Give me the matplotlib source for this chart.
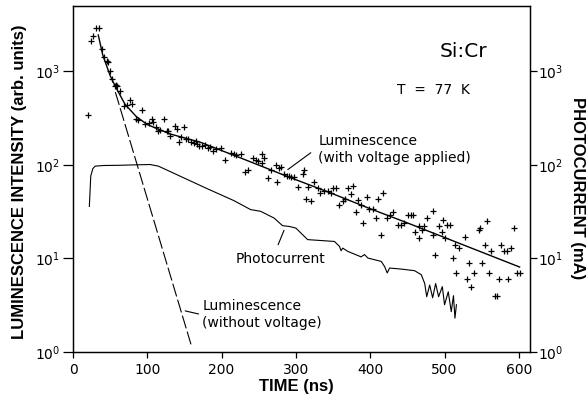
import matplotlib
matplotlib.use("Agg")
import matplotlib.pyplot as plt
from matplotlib.ticker import LogLocator, FixedLocator, NullLocator

# luminescence with voltage applied: measured points (time ns, intensity)
lum_t = [20.7, 24.3, 27.5, 31, 34.7, 38.7, 42.3, 45.5, 47, 50, 52.3, 55.9, 57.5, 59.5,
         63.5, 68, 72, 77, 80, 84.7, 87.6, 92.8, 97, 102, 106, 108, 112, 114, 117, 123,
         126, 128, 131, 137, 140, 143, 146, 150, 152, 155, 159, 163, 165, 167, 169,
         174, 178, 182, 185, 189, 192, 199, 205, 212, 216, 220, 226, 232, 235, 242,
         246, 249, 254, 255, 257, 262, 266, 273, 275, 277, 280, 284, 288, 291, 294,
         297, 303, 309, 311, 314, 316, 320, 324, 330, 333, 338, 343, 347,
         350, 354, 358, 363, 366, 370, 374, 377, 381, 383, 388, 390, 395, 399, 404,
         408, 411, 414, 417, 422, 426, 431, 438, 442, 446,
         451, 455, 458, 460, 465, 466, 469, 473, 477, 484, 485, 487, 492, 496, 498,
         500, 503, 507, 511, 514, 516, 520, 527, 530, 533, 536, 540, 546, 548, 550,
         554, 557, 560, 563, 568, 570, 573, 576, 580, 584, 586, 589, 593, 597, 601]
lum_v = [340, 2130, 2400, 2900, 2900, 1730, 1420, 1290, 1250, 1000, 830, 700, 720, 700,
         615, 425, 440, 490, 445, 310, 305, 385, 277, 280, 310, 290, 255, 230, 235, 310,
         228, 230, 204, 260, 245, 174, 198, 255, 190, 188, 176, 172, 178, 168, 158,
         159, 165, 150, 155, 141, 148, 153, 114, 135, 131, 128, 130, 83, 89, 120,
         114, 110, 130, 106, 118, 73, 89, 101, 65, 93, 94, 80, 77, 76, 75,
         75, 58, 79, 89, 43, 58, 41, 65, 57, 50, 52, 52, 50,
         57, 57, 37.6, 41, 43, 56, 49, 60, 31, 42, 37, 24, 45, 34, 34,
         27, 43, 18, 50, 27, 29, 31, 23, 23, 24,
         29, 29.5, 29, 19, 16.7, 22, 20, 22, 27, 18, 32, 11, 22, 19, 26,
         16.7, 23, 23, 10, 14, 7, 13, 17, 6, 9, 5, 7, 20, 21, 9,
         14, 25, 7, 12, 4, 4, 6, 14, 12, 12, 6, 13, 21, 7, 7]

# fitted curve (with voltage)
fit_t = [34, 40, 50, 57, 70, 85, 100, 130, 172, 230, 289, 350, 400, 450, 520, 601]
fit_v = [2450, 1500, 900, 690, 445, 330, 270, 215, 174, 115, 75, 49, 34, 24, 14.5, 8.1]

# luminescence without voltage (dashed)
nov_t = [57, 160]
nov_v = [600, 1.12]

# photocurrent (mA)
pc_t = [22, 23.9, 26.6, 29.7, 41, 60, 80, 103.6, 115, 153.6, 180, 216.6, 239, 252.6,
        270.7, 282, 291, 300, 306.7, 315.8, 351.8, 358.5, 360.8, 363, 369.8, 387.7,
        392.3, 396.8, 414.8, 419.3, 422.9, 426, 441.7, 459.7, 468.7, 473.3,
        476, 480, 484, 488, 492, 497, 500, 505, 509, 512, 514, 516]
pc_v = [36, 76, 91, 97, 98.6, 99, 100, 101, 97, 70, 56, 41.5, 33.3, 31.9,
        27, 22.4, 22, 21.1, 18.7, 15.9, 15.2, 13.5, 12.1, 12.9, 11.9, 10.4,
        11.0, 10.1, 9.3, 8.2, 7.0, 7.9, 7.7, 7.4, 6.7, 5.4,
        3.9, 5.2, 3.8, 5.4, 3.9, 5.0, 3.2, 4.4, 2.7, 4.0, 2.3, 3.2]

plt.rcParams['font.family'] = ['DejaVu Sans']
fig = plt.figure(figsize=(5.88, 4.0), dpi=100)
ax = fig.add_axes([73 / 588, 1 - 352 / 400, (530 - 73) / 588, (352 - 6) / 400])

ax.plot(lum_t, lum_v, '+', color='black', ms=4.5, mew=0.9)
ax.plot(fit_t, fit_v, '-', color='black', lw=1.0)
ax.plot(nov_t, nov_v, color='black', lw=0.8, linestyle=(0, (12, 3)))
ax.plot(pc_t, pc_v, '-', color='black', lw=0.8)

ax.set_yscale('log')
ax.set_xlim(0, 615)
ax.set_ylim(1, 5000)
ax.xaxis.set_major_locator(FixedLocator([0, 100, 200, 300, 400, 500, 600]))
ax.yaxis.set_major_locator(LogLocator(base=10, numticks=10))
ax.yaxis.set_minor_locator(NullLocator())

ax2 = ax.twinx()
ax2.set_yscale('log')
ax2.set_ylim(1, 5000)
ax2.yaxis.set_minor_locator(NullLocator())

for a in (ax, ax2):
    for s in a.spines.values():
        s.set_linewidth(0.9)
ax.tick_params(axis='y', direction='out', length=7, width=0.9, labelsize=10, pad=2)
ax.tick_params(axis='x', direction='out', length=4, width=0.9, labelsize=10, pad=4)
ax2.tick_params(axis='y', direction='out', length=5, width=0.9, labelsize=10, pad=1)

txt = dict(color='black', fontsize=10)
ax.text(525, 1630, 'Si:Cr', ha='center', va='center', fontsize=14.5)
ax.text(485, 638, 'T  =  77  K', ha='center', va='center', **txt)
ax.text(330, 215, 'Luminescence\n(with voltage applied)', ha='left', va='top',
        linespacing=1.3, **txt)
ax.text(279, 9.9, 'Photocurrent', ha='center', va='center', **txt)
ax.text(174, 3.69, 'Luminescence\n(without voltage)', ha='left', va='top',
        linespacing=1.3, **txt)

lead = dict(arrowstyle='-', color='black', lw=0.8, shrinkA=0, shrinkB=0)
ax.annotate('', xy=(289, 89), xytext=(320, 135), arrowprops=lead)
ax.annotate('', xy=(284, 20), xytext=(276, 14), arrowprops=lead)
ax.annotate('', xy=(151, 2.75), xytext=(169, 2.55), arrowprops=lead)

lab = dict(fontsize=12, fontweight='bold', family=['Liberation Sans Narrow', 'Liberation Sans', 'DejaVu Sans'])
fig.text(20 / 588, 1 - 182 / 400, 'LUMINESCENCE INTENSITY (arb. units)', rotation=90,
         ha='center', va='center', **lab)
fig.text(577 / 588, 1 - 188 / 400, 'PHOTOCURRENT (mA)', rotation=-90,
         ha='center', va='center', **lab)
fig.text(296 / 588, 1 - 387 / 400, 'TIME (ns)', ha='center', va='center', **lab)

fig.savefig('out.png', dpi=100)
